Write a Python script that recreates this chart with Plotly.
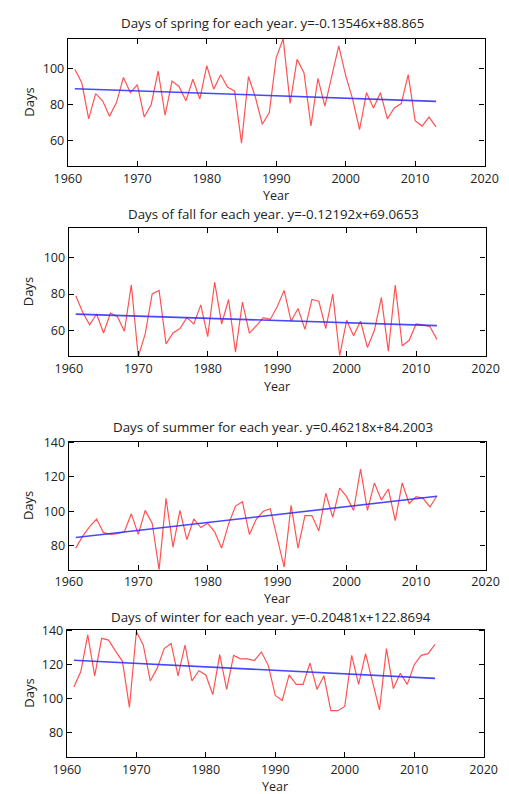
import plotly.graph_objects as go

years = list(range(1961, 2014))

spring = [99.5, 92, 72, 86, 82, 73.5, 81, 95, 86.5, 91,
          73, 80, 98.5, 74, 93, 90, 82, 94, 83, 101.5,
          88.5, 96.5, 89.5, 87.5, 58.5, 95.5, 84, 69, 75.5, 106,
          116.5, 80.5, 105, 97.5, 68, 94.5, 79, 96, 112.5, 96,
          83, 66, 86.5, 78, 86.5, 72, 78, 80.5, 96.5, 71,
          68, 73, 67.5]

fall = [79, 70, 63, 69, 58.5, 69.5, 67.5, 59.5, 85, 45.5,
        58, 80, 82, 52.5, 58.5, 61, 67, 63.5, 74, 56.5,
        86.5, 63.5, 77, 48, 75.5, 58.5, 62.5, 67, 66, 73,
        82, 65, 72, 60.5, 77, 76, 61, 80, 46, 65.5,
        57, 65, 50.5, 60, 78, 48.5, 85, 51.5, 54.5, 63.5,
        63, 62, 55]

summer = [78.5, 85.5, 91, 95.5, 87.5, 86.5, 87, 88, 98.5, 86.5,
          100.5, 93, 66, 107.5, 79, 100.5, 83.5, 95.5, 90.5, 93,
          88, 78.5, 92.5, 103, 105.5, 86.5, 95.5, 100, 101.5, 84.5,
          67.5, 103.5, 78.5, 97.5, 97.5, 88.5, 110.5, 96.5, 113.5, 108.5,
          100.5, 124.5, 100.5, 116.5, 106.5, 113, 94.5, 116.5, 104.5, 108.5,
          107.5, 102.5, 109]

winter = [107, 116, 137.5, 113.5, 135.5, 134.5, 128, 122, 95, 139.5,
          131.5, 110.5, 118, 129.5, 132.5, 113.5, 131.5, 110.5, 116.5, 114,
          102.5, 126, 105.5, 125.5, 123.5, 123.5, 122.5, 127.5, 119.5, 102,
          99, 114, 108.5, 108.5, 121, 105.5, 113.5, 93, 93, 95.5,
          125.5, 108.5, 126.5, 110, 93.5, 129.5, 106, 115, 108.5, 120,
          125.5, 126.5, 132]

season_names = ["spring", "fall", "summer", "winter"]
fit_slopes = [-0.13546, -0.12192, 0.46218, -0.20481]
fit_intercepts = [88.865, 69.0653, 84.2003, 122.8694]
fit_labels = ["y=-0.13546x+88.865", "y=-0.12192x+69.0653",
              "y=0.46218x+84.2003", "y=-0.20481x+122.8694"]

x_ticks = [1960, 1970, 1980, 1990, 2000, 2010, 2020]
y_ranges = [[45.6, 116.5], [45.6, 116.5], [65.6, 140.6], [65.6, 140.6]]
y_ticks = [[60, 80, 100], [60, 80, 100], [80, 100, 120, 140], [80, 100, 120, 140]]

W, H = 509, 794
# pixel boxes (left, right, top, bottom)
boxes = [(57, 498, 31, 160), (58, 499, 222, 352), (58, 499, 438, 568), (56, 497, 628, 757)]
title_y = [15, 208, 423, 615]
year_y = [189, 382, 596.5, 786]

FONT = "Open Sans"
TXT = "#222222"

series = [spring, fall, summer, winter]
fig = go.Figure()
layout = dict(width=W, height=H, margin=dict(l=0, r=0, t=0, b=0),
              paper_bgcolor="white", plot_bgcolor="white", showlegend=False,
              font=dict(family=FONT, size=12, color=TXT))
annotations = []
for i, (vals, name) in enumerate(zip(series, season_names)):
    n = i + 1
    xa = "x" if n == 1 else f"x{n}"
    ya = "y" if n == 1 else f"y{n}"
    trend = [fit_slopes[i] * k + fit_intercepts[i] for k in range(1, len(years) + 1)]
    fig.add_trace(go.Scatter(x=years, y=vals, mode="lines", xaxis=xa, yaxis=ya,
                             line=dict(color="rgba(255,40,40,0.8)", width=1.2)))
    fig.add_trace(go.Scatter(x=years, y=trend, mode="lines", xaxis=xa, yaxis=ya,
                             line=dict(color="rgba(40,40,255,0.85)", width=1.6)))
    l, r, t, b = boxes[i]
    axcommon = dict(showline=True, linecolor="black", linewidth=1.3, mirror="ticks",
                    ticks="inside", ticklen=5, tickwidth=1.3, tickcolor="black",
                    showgrid=False, zeroline=False, ticklabeloverflow="allow",
                    tickfont=dict(family=FONT, size=12.5, color=TXT))
    layout["xaxis" if n == 1 else f"xaxis{n}"] = dict(
        domain=[l / W, r / W], anchor=ya, range=[1960, 2020],
        tickvals=x_ticks, ticktext=[str(v) for v in x_ticks], **axcommon)
    layout["yaxis" if n == 1 else f"yaxis{n}"] = dict(
        domain=[1 - b / H, 1 - t / H], anchor=xa, range=y_ranges[i],
        tickvals=y_ticks[i], ticktext=[str(v) for v in y_ticks[i]], **axcommon)
    annotations.append(dict(text=f"Days of {name} for each year. {fit_labels[i]}",
                            x=(l + r) / 2 / W - 0.008, y=1 - title_y[i] / H, xref="paper", yref="paper",
                            xanchor="center", yanchor="middle", showarrow=False, borderpad=0,
                            font=dict(family=FONT, size=13.3, color=TXT)))
    annotations.append(dict(text="Year", x=(l + r) / 2 / W, y=1 - year_y[i] / H,
                            xref="paper", yref="paper", xanchor="center", yanchor="middle",
                            showarrow=False, borderpad=0,
                            font=dict(family=FONT, size=12.5, color=TXT)))
    annotations.append(dict(text="Days", x=15 / W, y=1 - (t + b) / 2 / H, textangle=-90,
                            xref="paper", yref="paper", xanchor="center", yanchor="middle",
                            showarrow=False, font=dict(family=FONT, size=13, color=TXT)))
layout["annotations"] = annotations
fig.update_layout(**layout)
fig.write_html("out.html")
